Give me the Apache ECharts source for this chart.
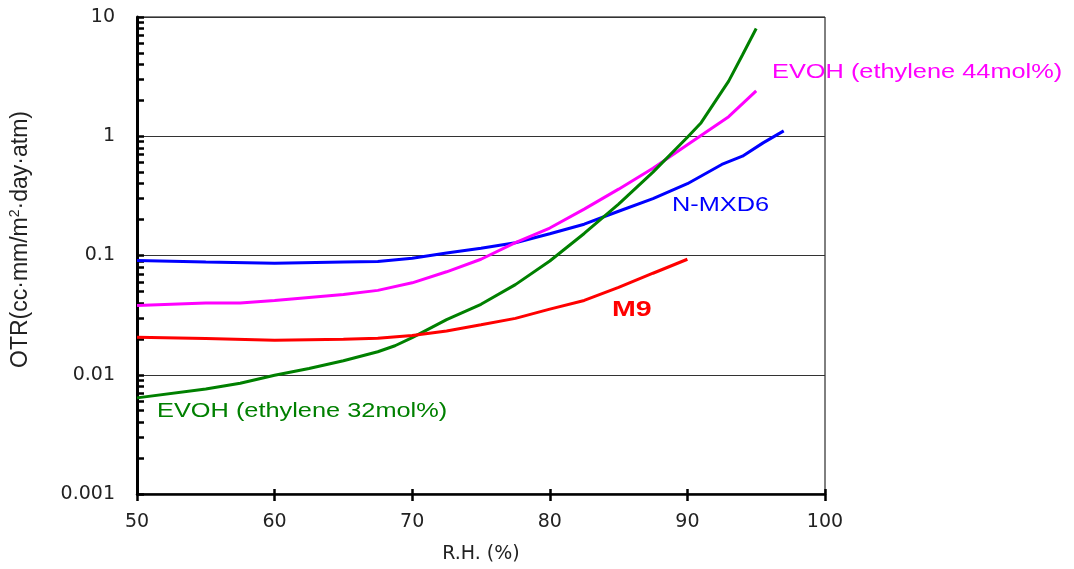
<!DOCTYPE html>
<html>
<head>
<meta charset="utf-8">
<script src="https://cdn.jsdelivr.net/npm/echarts@6/dist/echarts.min.js"></script>
<style>
  html, body { margin: 0; padding: 0; background: #fff; }
  #main { width: 1074px; height: 569px; }
</style>
</head>
<body>
<div id="main"></div>
<script>
// R.H. (%) と OTR の読み取り値
var rhMXD6 = [50, 55, 60, 65, 67.5, 70, 72.5, 75, 77.5, 80, 82.5, 85, 87.5, 90, 92.5, 94, 95.5, 97];
var otrMXD6 = [0.091, 0.088, 0.086, 0.088, 0.089, 0.095, 0.105, 0.115, 0.128, 0.152, 0.183, 0.235, 0.30, 0.40, 0.58, 0.68, 0.88, 1.11];

var rhEVOH44 = [50, 55, 57.5, 60, 65, 67.5, 70, 72.5, 75, 77.5, 80, 82.5, 85, 87.5, 90, 93, 95];
var otrEVOH44 = [0.038, 0.040, 0.040, 0.042, 0.047, 0.051, 0.059, 0.073, 0.093, 0.128, 0.17, 0.245, 0.36, 0.54, 0.85, 1.46, 2.4];

var rhEVOH32 = [50, 55, 57.5, 60, 62.5, 65, 67.5, 68.75, 70, 72.5, 75, 77.5, 80, 82.5, 85, 87.5, 90, 91, 93, 94, 95];
var otrEVOH32 = [0.0064, 0.0076, 0.0085, 0.0099, 0.0113, 0.0131, 0.0156, 0.0175, 0.0205, 0.029, 0.039, 0.057, 0.09, 0.153, 0.27, 0.5, 0.98, 1.3, 2.9, 4.8, 8.0];

var rhM9 = [50, 55, 60, 65, 67.5, 70, 72.5, 75, 77.5, 80, 82.5, 85, 87.5, 90];
var otrM9 = [0.0206, 0.0201, 0.0195, 0.0198, 0.0202, 0.0213, 0.0233, 0.0263, 0.0297, 0.0355, 0.042, 0.054, 0.071, 0.093];

var yTicks = [0.001, 0.01, 0.1, 1, 10];
var xTicks = [50, 60, 70, 80, 90, 100];

// 対数軸の補助目盛 (1〜9)
var minorTicks = [];
for (var k = 0; k < yTicks.length - 1; k++) {
  for (var m = 1; m <= 9; m++) {
    minorTicks.push(+(yTicks[k] * m).toPrecision(3));
  }
}
minorTicks.push(10);

function pairs(xs, ys) {
  return xs.map(function (x, i) { return [x, ys[i]]; });
}

var font = "'Liberation Sans', Arial, sans-serif";
var wide = "'DejaVu Sans', sans-serif";

// 注記テキスト (横に伸びた元図に合わせて scaleX)
function note(text, x, y, color, size, bold) {
  return {
    type: 'text', x: x, y: y, scaleX: 1.3,
    style: {
      text: text, fill: color, verticalAlign: 'top',
      font: (bold ? 'bold ' : '') + size + "px 'Liberation Sans', Arial, sans-serif"
    }
  };
}

var chart = echarts.init(document.getElementById('main'));
chart.setOption({
  animation: false,
  backgroundColor: '#fff',
  grid: {
    left: 137, right: 249, top: 17, bottom: 74,
    show: true, borderColor: '#000', borderWidth: 1
  },
  xAxis: [{
    type: 'value', min: 50, max: 100, interval: 10,
    name: 'R.H. (%)', nameLocation: 'middle', nameGap: 51,
    nameTextStyle: { fontFamily: wide, fontSize: 19, color: '#222' },
    axisLine: { lineStyle: { color: '#000', width: 2.5 } },
    axisTick: { show: true, length: 7, lineStyle: { color: '#000', width: 2.5 } },
    axisLabel: { fontFamily: wide, fontSize: 19, color: '#222', margin: 19,
      customValues: xTicks },
    splitLine: { show: false }
  }, {
    type: 'value', min: 50, max: 100, interval: 10, position: 'bottom',
    axisLine: { show: false },
    axisTick: { show: true, inside: true, length: 5, lineStyle: { color: '#000', width: 2.5 } },
    axisLabel: { show: false },
    splitLine: { show: false }
  }],
  yAxis: [{
    type: 'log', logBase: 10, min: 0.001, max: 10,
    name: 'OTR(cc·mm/m{sup|2}·day·atm)', nameLocation: 'middle', nameGap: 104,
    nameTextStyle: {
      fontFamily: font, fontSize: 23, color: '#222', padding: [0, 0, 0, 32],
      rich: { sup: { fontFamily: font, fontSize: 14, verticalAlign: 'top', padding: [0, 0, 11, 0] } }
    },
    axisLine: { show: true, lineStyle: { color: '#000', width: 3 } },
    axisTick: { show: false },
    axisLabel: { fontFamily: wide, fontSize: 19, color: '#222', margin: 22,
      formatter: function (v) { return String(+v.toPrecision(3)); } },
    splitLine: { show: true, lineStyle: { color: '#333', width: 1 } }
  }, {
    type: 'log', logBase: 10, min: 0.001, max: 10, position: 'left',
    axisLine: { show: false },
    axisTick: { show: true, inside: true, length: 7, customValues: minorTicks,
      lineStyle: { color: '#000', width: 2.5 } },
    axisLabel: { show: false },
    splitLine: { show: false }
  }],
  series: [{
    name: 'N-MXD6', type: 'line', data: pairs(rhMXD6, otrMXD6),
    showSymbol: false, lineStyle: { color: '#0000FF', width: 3 }
  }, {
    name: 'EVOH (ethylene 44mol%)', type: 'line', data: pairs(rhEVOH44, otrEVOH44),
    showSymbol: false, lineStyle: { color: '#FF00FF', width: 3 }
  }, {
    name: 'EVOH (ethylene 32mol%)', type: 'line', data: pairs(rhEVOH32, otrEVOH32),
    showSymbol: false, lineStyle: { color: '#008000', width: 3 }
  }, {
    name: 'M9', type: 'line', data: pairs(rhM9, otrM9),
    showSymbol: false, lineStyle: { color: '#FF0000', width: 3 }
  }],
  graphic: [
    note('EVOH (ethylene 44mol%)', 772, 63, '#FF00FF', 19.5),
    note('N-MXD6', 672, 196, '#0000FF', 19.5),
    note('M9', 612, 299, '#FF0000', 22, true),
    note('EVOH (ethylene 32mol%)', 157, 402, '#008000', 19.5)
  ]
});
</script>
</body>
</html>
